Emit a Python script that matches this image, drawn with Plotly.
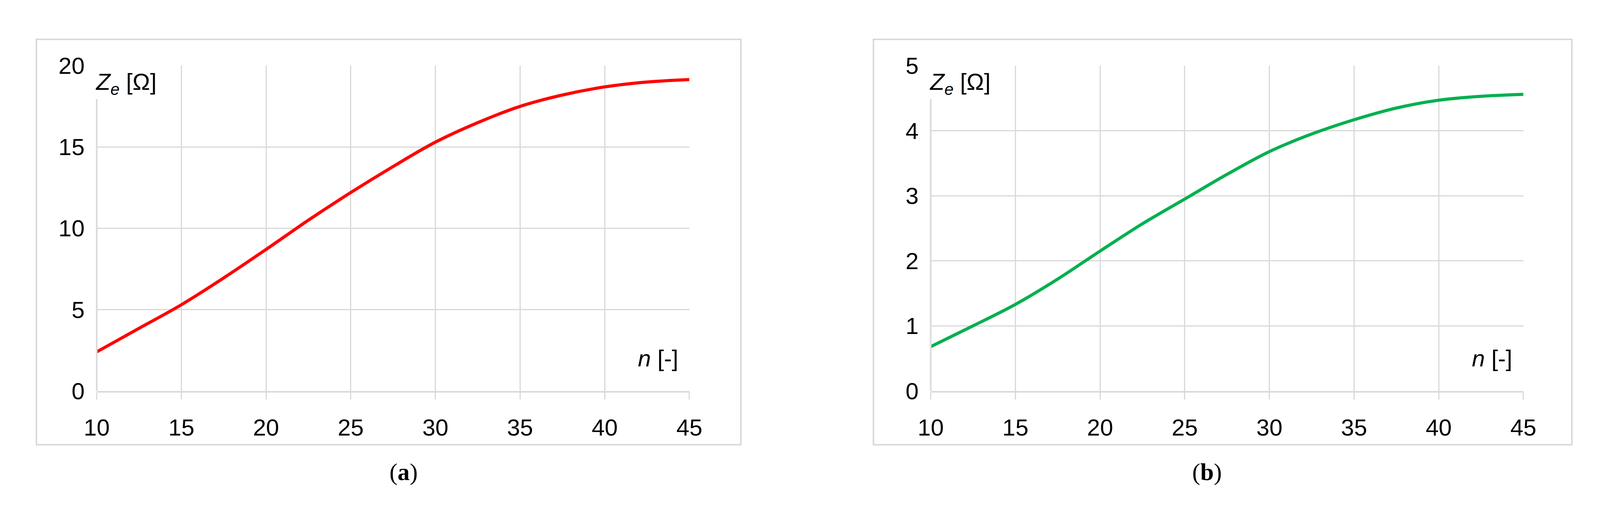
import plotly.graph_objects as go

n = [10, 12.5, 15, 17.5, 20, 22.5, 25, 27.5, 30, 32.5, 35, 37.5, 40, 42.5, 45]
ze_a = [2.4, 3.85, 5.3, 6.95, 8.7, 10.5, 12.2, 13.8, 15.3, 16.5, 17.5, 18.2, 18.7, 19.0, 19.15]
ze_b = [0.68, 1.0, 1.33, 1.72, 2.15, 2.57, 2.95, 3.33, 3.68, 3.95, 4.17, 4.35, 4.47, 4.53, 4.56]
x_ticks = [10, 15, 20, 25, 30, 35, 40, 45]

W, H = 4100, 1344
FONT = "Liberation Sans"
GRID = "#d9d9d9"

fig = go.Figure()
fig.add_trace(go.Scatter(x=n, y=ze_a, mode="lines", line=dict(color="#ff0000", width=8, shape="spline"),
                         xaxis="x", yaxis="y", showlegend=False))
fig.add_trace(go.Scatter(x=n, y=ze_b, mode="lines", line=dict(color="#00b050", width=8, shape="spline"),
                         xaxis="x2", yaxis="y2", showlegend=False))

yd = [(H - 1010) / H, (H - 134) / H]
xd1 = [210 / W, 1752 / W]
xd2 = [2380 / W, 3922 / W]

def xax(dom, anchor):
    return dict(domain=dom, anchor=anchor, range=[10, 45], tickvals=x_ticks, showgrid=True, gridcolor=GRID,
                gridwidth=3, showline=True, linecolor=GRID, linewidth=4, ticks="outside", ticklen=18,
                tickcolor=GRID, tickwidth=3, zeroline=False, ticklabelstandoff=20,
                tickfont=dict(family=FONT, size=60, color="black"))

def yax(rng, step, anchor):
    return dict(domain=yd, anchor=anchor, range=rng, dtick=step, showgrid=True, gridcolor=GRID, gridwidth=3,
                showline=False, ticks="", zeroline=False, ticklabelstandoff=30,
                tickfont=dict(family=FONT, size=60, color="black"))

fig.update_layout(
    width=W, height=H, margin=dict(l=0, r=0, t=0, b=0),
    paper_bgcolor="white", plot_bgcolor="white",
    xaxis=xax(xd1, "y"), yaxis=yax([0, 20], 5, "x"),
    xaxis2=xax(xd2, "y2"), yaxis2=yax([0, 5], 1, "x2"),
)

for x0, x1, cap, px in [(53, 1886, "(<b>a</b>)", 210), (2231, 4048, "(<b>b</b>)", 2380)]:
    fig.add_shape(type="rect", xref="paper", yref="paper", x0=x0 / W, x1=x1 / W,
                  y0=(H - 1155) / H, y1=(H - 63) / H, line=dict(color=GRID, width=4))
    fig.add_annotation(xref="paper", yref="paper", x=(x0 + x1) / 2 / W, y=(H - 1267) / H, text=cap,
                       showarrow=False, font=dict(family="Liberation Serif", size=62, color="black"))
    # y axis line below the label
    fig.add_shape(type="line", xref="paper", yref="paper", x0=px / W, x1=px / W,
                  y0=yd[0], y1=(H - 190) / H, line=dict(color=GRID, width=4))
    fig.add_annotation(xref="paper", yref="paper", x=(px - 6) / W, y=(H - 140) / H, xanchor="left",
                       text="<i>Z<sub>e</sub></i> [Ω]", showarrow=False, bgcolor="white",
                       font=dict(family=FONT, size=60, color="black"))
    fig.add_annotation(xref="paper", yref="paper", x=(px + 1515) / W, y=(H - 960) / H, xanchor="right",
                       text="<i>n</i> [-]", showarrow=False, bgcolor="white",
                       font=dict(family=FONT, size=60, color="black"))

fig.write_html("out.html")
